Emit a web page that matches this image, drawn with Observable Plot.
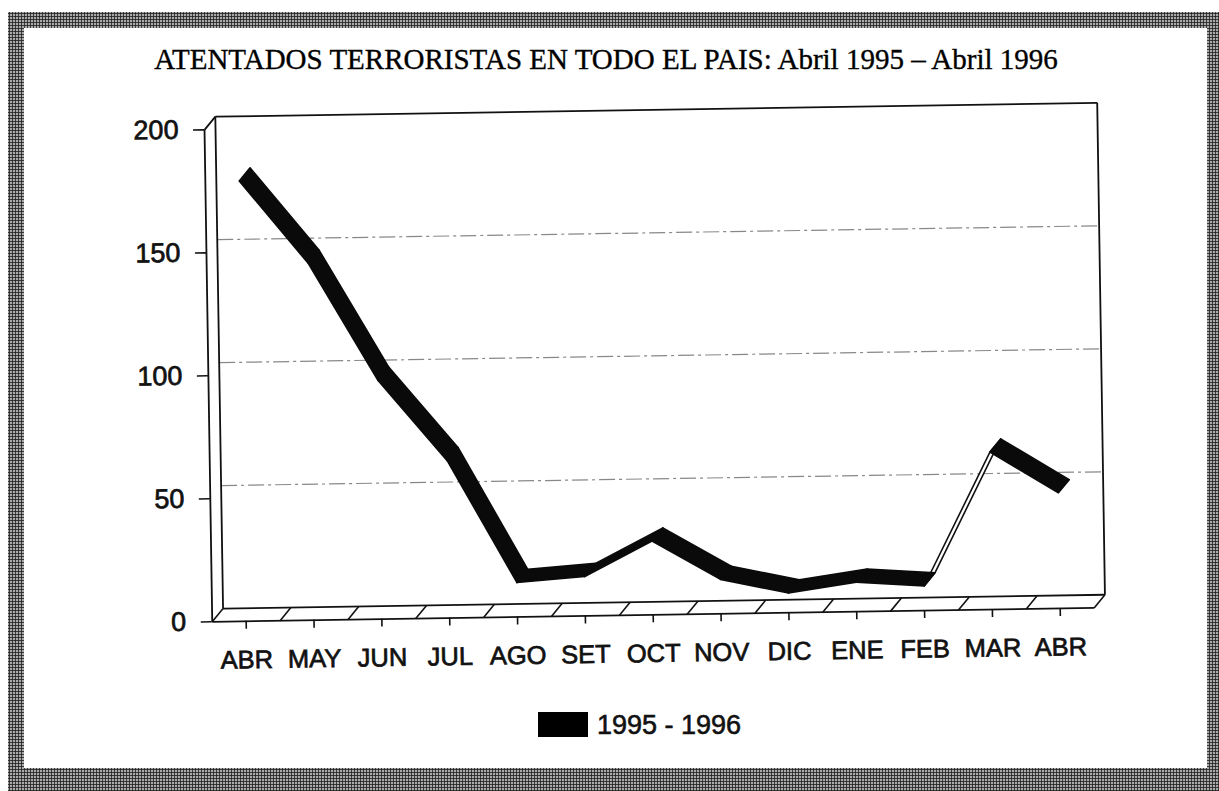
<!DOCTYPE html>
<html>
<head>
<meta charset="utf-8">
<script src="https://cdn.jsdelivr.net/npm/d3@7"></script>
<script src="https://cdn.jsdelivr.net/npm/@observablehq/plot@0.6"></script>
<style>
html, body { margin:0; padding:0; background:#fff; width:1219px; height:791px; overflow:hidden; position:relative; }
#band { position:absolute; left:8px; top:12px; right:0; bottom:0;
  background-color:#c0c0c0;
  background-image: radial-gradient(circle, #222 0.9px, transparent 1.5px);
  background-size:3px 3px; }
#panel { position:absolute; left:24px; top:28px; width:1183px; height:740px; background:#fff; }
#title { position:absolute; left:0; width:1212px; top:45px; text-align:center;
  font-family:"Liberation Serif", serif; font-size:29px; line-height:28px; color:#000; white-space:nowrap;
  -webkit-text-stroke:0.35px #000; }
#chart { position:absolute; left:0; top:60px; transform:rotate(-0.9deg); transform-origin:610px 320px; }
#chart svg { overflow:visible; }
#chart svg text { stroke:#111; stroke-width:0.7px; }
#legend-swatch { position:absolute; left:538px; top:712px; width:50px; height:25px; background:#000; }
#legend-text { position:absolute; left:597px; top:712px; font-family:"Liberation Sans", sans-serif;
  font-size:27px; line-height:27px; color:#111; white-space:nowrap; -webkit-text-stroke:0.6px #111; }
</style>
</head>
<body>
<div id="band"></div>
<div id="panel"></div>
<div id="title">ATENTADOS TERRORISTAS EN TODO EL PAIS: Abril 1995 – Abril 1996</div>
<div id="chart"></div>
<div id="legend-swatch"></div>
<div id="legend-text"></div>
<script>
// ---- data ----
const months = ["ABR","MAY","JUN","JUL","AGO","SET","OCT","NOV","DIC","ENE","FEB","MAR","ABR"];
const attacks = [179, 145, 97, 64, 14, 16, 30, 14, 8, 12, 10, 64, 47];
const yTicks = [0, 50, 100, 150, 200];
const gridLevels = [50, 100, 150];
const seriesName = "1995 - 1996";

// ---- layout ----
const W = 1219, H = 640;
const mL = 208, mR = 129, mT = 63, mB = 85;
const xDomain = [-0.5, months.length - 0.5];
const yDomain = [0, 200];
const pxX = (W - mL - mR) / (xDomain[1] - xDomain[0]);
const pxY = (H - mT - mB) / (yDomain[1] - yDomain[0]);
// 3D depth (pixels) converted to data units
const depthPx = [11, 13];
const DX = depthPx[0] / pxX, DY = depthPx[1] / pxY;

const idx = months.map((_, i) => i);
const [x0, x1] = xDomain, [y0, y1] = yDomain;

// ribbon faces
const frontFaces = [], sideFaces = [];
for (let i = 0; i < attacks.length - 1; i++) {
  const a = attacks[i], b = attacks[i + 1];
  const cross = pxX * (-depthPx[1]) + (b - a) * pxY * depthPx[0];
  const target = cross < 0 ? frontFaces : sideFaces;
  [[i, a], [i + 1, b], [i + 1 + DX, b + DY], [i + DX, a + DY], [i, a]]
    .forEach(([x, y]) => target.push({seg: i, x, y}));
}

// frame edges
const backEdges = [
  {x1: x0 + DX, y1: y0 + DY, x2: x0 + DX, y2: y1 + DY},
  {x1: x0 + DX, y1: y1 + DY, x2: x1 + DX, y2: y1 + DY},
  {x1: x1 + DX, y1: y1 + DY, x2: x1 + DX, y2: y0 + DY},
  {x1: x0 + DX, y1: y0 + DY, x2: x1 + DX, y2: y0 + DY},
  {x1: x0, y1: y0, x2: x1, y2: y0},
  {x1: x0, y1: y0, x2: x0, y2: y1},
  {x1: x0, y1: y1, x2: x0 + DX, y2: y1 + DY}
];
const boundaries = d3.range(x0, x1 + 0.01, 1);
const dividers = boundaries.map(b => ({x1: b, y1: y0, x2: b + DX, y2: y0 + DY}));
const grid = gridLevels.map(g => ({x1: x0 + DX, y1: g + DY, x2: x1 + DX, y2: g + DY}));

const chart = Plot.plot({
  width: W, height: H,
  marginLeft: mL, marginRight: mR, marginTop: mT, marginBottom: mB,
  style: {fontFamily: "Liberation Sans, sans-serif", color: "#111", background: "transparent"},
  x: {type: "linear", domain: xDomain},
  y: {type: "linear", domain: yDomain},
  marks: [
    Plot.link(grid, {x1: "x1", y1: "y1", x2: "x2", y2: "y2", stroke: "#555", strokeWidth: 1.2, strokeDasharray: "16,4,3,4", strokeOpacity: 0.7}),
    Plot.link(backEdges, {x1: "x1", y1: "y1", x2: "x2", y2: "y2", stroke: "#111", strokeWidth: 1.8}),
    Plot.link(dividers, {x1: "x1", y1: "y1", x2: "x2", y2: "y2", stroke: "#111", strokeWidth: 1.6}),
    Plot.line(sideFaces, {x: "x", y: "y", z: "seg", fill: "white", stroke: "#111", strokeWidth: 1.6, curve: "linear"}),
    Plot.line(frontFaces, {x: "x", y: "y", z: "seg", fill: "#0a0a0a", stroke: "#0a0a0a", strokeWidth: 1.6, curve: "linear"}),
    Plot.axisY({ticks: yTicks, tickSize: 11, tickPadding: 15, fontSize: 27, label: null, stroke: "#111", strokeWidth: 1.6}),
    Plot.axisX({ticks: idx, tickFormat: i => months[i], tickSize: 8, tickPadding: 21, fontSize: 25.5, label: null, stroke: "#111", strokeWidth: 1.6})
  ]
});
document.getElementById("chart").appendChild(chart);
document.getElementById("legend-text").textContent = seriesName;
</script>
</body>
</html>
